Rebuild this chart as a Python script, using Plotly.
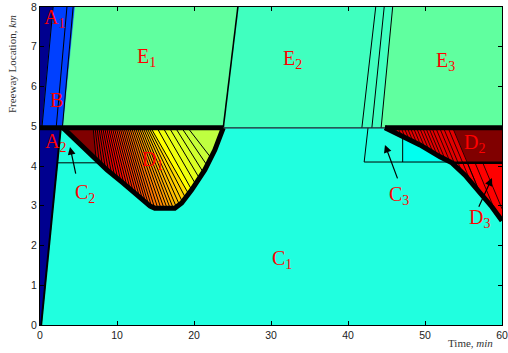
import numpy as np
import plotly.graph_objects as go

# ---------------- data ----------------
x_ticks = [0, 10, 20, 30, 40, 50, 60]
y_ticks = [0, 1, 2, 3, 4, 5, 6, 7, 8]

Y_BN = 4.96      # bottleneck (merge) location, km
Y_MID = 4.08     # lower shock line, km

# navy regions
a2_t = [0.0, 0.15, 2.7, 0.0]
a2_y = [0.0, 0.0, Y_BN, Y_BN]
a1_t = [0.0, 0.25, 1.7, 0.0]
a1_y = [Y_BN, Y_BN, 8.0, 8.0]
# blue region B
b_t = [0.25, 3.0, 4.55, 1.7]
b_y = [Y_BN, Y_BN, 8.0, 8.0]
b_lines_t0 = [2.1, 2.9]
b_lines_t1 = [3.5, 4.3]
# upstream regions E1, E2, E3
e1_t = [3.0, 23.8, 25.7, 4.55]
e2_t = [23.8, 44.3, 45.8, 25.7]
e3_t = [44.3, 60.0, 60.0, 45.8]
e_y = [Y_BN, Y_BN, 8.0, 8.0]
e23_lines_t0 = [41.8, 43.1, 44.3]
e23_lines_t1 = [43.6, 44.7, 45.8]

# D1 fan: lower boundary and characteristic lines
d1_low_t = [3.0, 6.9, 8.7, 10.8, 13.0, 14.3, 14.9, 17.5, 18.4, 19.7, 21.4, 22.7, 23.8]
d1_low_y = [Y_BN, 4.23, 3.90, 3.57, 3.22, 2.99, 2.94, 2.94, 3.07, 3.40, 3.90, 4.40, Y_BN]
fan_top = [3.0, 6.9,
           7.15, 7.4, 7.65, 7.9, 8.15, 8.4, 8.65, 8.9, 9.15, 9.4, 9.65, 9.9, 10.15, 10.4, 10.65,
           10.9, 11.15, 11.4, 11.65, 11.9, 12.15, 12.4, 12.65, 12.9, 13.15, 13.4, 13.65, 13.9,
           14.15, 14.4,
           15.2, 16.0, 16.8, 17.6, 18.4, 19.2,
           23.8]
fan_bot = [3.0, 7.3,
           7.7, 8.1, 8.5, 8.9, 9.3, 9.7, 10.1, 10.5, 10.9, 11.3, 11.7, 12.1, 12.5, 12.9, 13.3,
           13.7, 14.1, 14.5, 14.9, 15.3, 15.7, 16.1, 16.5, 16.9, 17.3, 17.7, 18.1, 18.5,
           18.9, 19.3,
           19.7, 20.2, 20.7, 21.2, 21.7, 22.2,
           23.8]
fan_level = [1.0,
             0.95, 0.94, 0.93, 0.92, 0.91, 0.90, 0.89, 0.88, 0.87, 0.86, 0.85, 0.84, 0.83, 0.82,
             0.81, 0.80, 0.79, 0.78, 0.77, 0.76, 0.75, 0.74, 0.73, 0.72, 0.71, 0.70, 0.69, 0.68,
             0.67, 0.66,
             0.625, 0.61, 0.60, 0.59, 0.58, 0.57, 0.5625]

# C2 line
c2_line_t = [2.25, 7.7]

# right side: D2/D3 shock curve
curve_t = [44.8, 46.75, 49.35, 51.95, 53.5, 55.2, 57.1, 58.7, 60.0]
curve_y = [Y_BN, 4.78, 4.53, 4.23, 4.08, 3.77, 3.35, 2.97, 2.62]
band_top_right = 53.6
band_bot_right = 55.5
d2_hatch_top = [45.3, 45.7, 46.1, 46.5, 46.9, 47.3, 47.7, 48.1, 48.5, 48.9, 49.3, 49.7,
                50.1, 50.5, 50.9, 51.4, 51.9, 52.4, 53.0]
d3_line_start = [55.5, 56.5, 57.5]
wave_slope = -0.463   # km/min

# C3 region and lines
c3_t = [47.1, 53.2, 51.95, 49.35, 47.1]
c3_y = [4.10, 4.10, 4.23, 4.53, 4.746]
c3_lines = [([42.6, 42.1, 53.2], [Y_BN, 4.10, 4.10]), ([47.1, 47.1], [4.746, 4.10])]

# labels
labels = ["A<sub>1</sub>", "B", "E<sub>1</sub>", "E<sub>2</sub>", "E<sub>3</sub>", "A<sub>2</sub>",
          "D<sub>1</sub>", "C<sub>2</sub>", "C<sub>1</sub>", "C<sub>3</sub>", "D<sub>2</sub>", "D<sub>3</sub>"]
label_t = [0.22, 1.04, 12.34, 31.3, 51.2, 0.39, 12.99, 4.29, 29.9, 45.06, 54.8, 55.45]
label_y = [7.71, 5.67, 6.73, 6.67, 6.63, 4.59, 4.15, 3.31, 1.65, 3.27, 4.57, 2.68]
# arrows (head, tail)
arrow_head_t = [3.9, 44.8, 58.7]
arrow_head_y = [4.48, 4.53, 3.70]
arrow_tail_t = [4.68, 46.5, 56.9]
arrow_tail_y = [3.77, 3.65, 2.94]

# ---------------- styles ----------------
C_CYAN = "rgb(32,255,223)"
C_AQUA = "rgb(64,255,191)"
C_GREEN = "rgb(96,255,159)"
C_NAVY = "rgb(0,0,143)"
C_BLUE = "rgb(0,64,255)"
C_DRED = "rgb(128,0,0)"
C_RED = "rgb(255,0,0)"
C_C3 = "rgb(0,255,240)"


def jet(v):
    def f(x):
        return float(np.clip(1.5 - abs(4 * v - x), 0, 1))
    r, g, b = f(3), f(2), f(1)
    return "rgb(%d,%d,%d)" % (round(r * 255), round(g * 255), round(b * 255))


fig = go.Figure()


def poly(xs, ys, color):
    fig.add_trace(go.Scatter(x=list(xs) + [xs[0]], y=list(ys) + [ys[0]], mode="lines",
                             fill="toself", fillcolor=color,
                             line=dict(color=color, width=0.6), hoverinfo="skip"))


def line(xs, ys, width=1.0, color="black"):
    fig.add_trace(go.Scatter(x=xs, y=ys, mode="lines", line=dict(color=color, width=width),
                             hoverinfo="skip"))


def ylow(t):
    return float(np.interp(t, d1_low_t, d1_low_y))


def end_on_curve(t0, y0):
    tt = np.linspace(t0, 60, 3000)
    yl = y0 + wave_slope * (tt - t0)
    d = yl - np.interp(tt, curve_t, curve_y)
    idx = np.where(d <= 0)[0]
    k = idx[0] if len(idx) else len(tt) - 1
    return float(tt[k]), float(yl[k])


# lower navy
poly(a2_t, a2_y, C_NAVY)
# upper regions
poly(a1_t, a1_y, C_NAVY)
poly(b_t, b_y, C_BLUE)
poly(e1_t, e_y, C_GREEN)
poly(e2_t, e_y, C_AQUA)
poly(e3_t, e_y, C_GREEN)

lx, ly = [], []
for t0, t1 in zip(b_lines_t0, b_lines_t1):
    lx += [t0, t1, None]; ly += [Y_BN, 8, None]
lx += [0.25, 1.7, None]; ly += [Y_BN, 8, None]
for t0, t1 in zip(e23_lines_t0, e23_lines_t1):
    lx += [t0, t1, None]; ly += [Y_BN, 8, None]
line(lx, ly, 1.0)
line([e1_t[1], e1_t[2]], [Y_BN, 8], 1.6)

# D1 fan strips
for i in range(len(fan_top) - 1):
    t0, t1 = fan_top[i], fan_top[i + 1]
    b0, b1 = fan_bot[i], fan_bot[i + 1]
    inner = [(t, y) for t, y in zip(d1_low_t, d1_low_y) if b0 < t < b1]
    xs = [t0, t1, b1] + [p[0] for p in reversed(inner)] + [b0]
    ys = [Y_BN, Y_BN, ylow(b1)] + [p[1] for p in reversed(inner)] + [ylow(b0)]
    poly(xs, ys, jet(fan_level[i]))
lx, ly = [], []
for i in range(1, len(fan_top) - 1):
    lx += [fan_top[i], fan_bot[i], None]; ly += [Y_BN, ylow(fan_bot[i]), None]
line(lx, ly, 1.0)

# C2 line
line(c2_line_t, [Y_MID, Y_MID], 1.0)

# D2 dark red region (above Y_MID), hatched band, D3 red region
up = [(t, y) for t, y in zip(curve_t, curve_y) if y >= Y_MID]
poly([p[0] for p in up] + [60, 60], [p[1] for p in up] + [Y_MID, Y_BN], C_DRED)
band_x = [curve_t[0], band_top_right, band_bot_right] + [p[0] for p in reversed(up)]
band_y = [Y_BN, Y_BN, Y_MID] + [p[1] for p in reversed(up)]
poly(band_x, band_y, "rgb(225,0,0)")
low = [(t, y) for t, y in zip(curve_t, curve_y) if y <= Y_MID]
poly([p[0] for p in low] + [60], [p[1] for p in low] + [Y_MID], C_RED)
poly(c3_t, c3_y, C_C3)

lx, ly = [], []
for t0 in d2_hatch_top + [band_top_right]:
    te, ye = end_on_curve(t0, Y_BN)
    lx += [t0, te, None]; ly += [Y_BN, ye, None]
for t0 in d3_line_start:
    te, ye = end_on_curve(t0, Y_MID)
    lx += [t0, te, None]; ly += [Y_MID, ye, None]
line(lx, ly, 0.8)
for xs, ys in c3_lines:
    line(xs, ys, 1.0)

# thick shock lines
line([a2_t[1], a2_t[2]], [0, Y_BN], 2.0)
line(d1_low_t, d1_low_y, 5.0)
line(curve_t, curve_y, 5.0)
line([0, e1_t[1]], [Y_BN, Y_BN], 5.0)
line([e1_t[1], curve_t[0]], [Y_BN, Y_BN], 1.2, "#223")
line([curve_t[0], 60], [Y_BN, Y_BN], 5.0)
line([curve_t[4], 60], [Y_MID, Y_MID], 2.5)

annotations = []
for txt, t, y in zip(labels, label_t, label_y):
    annotations.append(dict(x=t, y=y, xref="x", yref="y", text=txt, showarrow=False,
                            xanchor="left", yanchor="middle",
                            font=dict(family="Liberation Serif", size=20, color="red")))
for ht, hy, tt, ty in zip(arrow_head_t, arrow_head_y, arrow_tail_t, arrow_tail_y):
    annotations.append(dict(x=ht, y=hy, ax=tt, ay=ty, xref="x", yref="y", axref="x", ayref="y",
                            text="", showarrow=True, arrowhead=2, arrowsize=1.3,
                            arrowwidth=1.2, arrowcolor="black"))
annotations.append(dict(x=0.985, y=-0.057, xref="paper", yref="paper", text="Time, <i>min</i>",
                        showarrow=False, xanchor="right", yanchor="middle",
                        font=dict(family="Liberation Serif", size=11, color="#333")))
annotations.append(dict(x=-0.061, y=0.82, xref="paper", yref="paper",
                        text="Freeway Location, <i>km</i>", textangle=-90,
                        showarrow=False, xanchor="center", yanchor="middle",
                        font=dict(family="Liberation Serif", size=11, color="#333")))

axis_common = dict(showgrid=False, zeroline=False, showline=True, linecolor="black", linewidth=1,
                   mirror="ticks", ticks="inside", ticklen=4, tickcolor="black", automargin=False,
                   tickfont=dict(family="Liberation Sans", size=10.5, color="#222"))
fig.update_layout(
    width=508, height=353, margin=dict(l=40, r=6, t=7, b=28),
    plot_bgcolor=C_CYAN, paper_bgcolor="white", showlegend=False,
    xaxis=dict(range=[0, 60], tickvals=x_ticks, **axis_common),
    yaxis=dict(range=[0, 8], tickvals=y_ticks, **axis_common),
    annotations=annotations,
)
fig.write_html("out.html")
